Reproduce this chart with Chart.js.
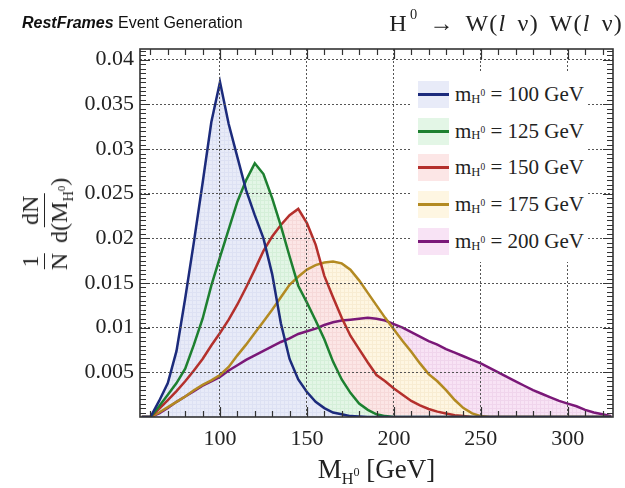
<!DOCTYPE html>
<html>
<head>
<meta charset="utf-8">
<script src="https://cdn.jsdelivr.net/npm/chart.js@4"></script>
<style>
  html, body { margin: 0; padding: 0; background: #fff; }
  #wrap { position: relative; width: 625px; height: 488px; overflow: hidden; }
  #chart { position: absolute; left: 0; top: 0; }
  .serif { font-family: "Liberation Serif", "DejaVu Serif", serif; color: #222; }
  sub, sup { line-height: 0; vertical-align: baseline; position: relative; }
  sub { top: 0.38em; }
  sup { top: -0.55em; }
  #titleL { position: absolute; left: 22px; top: 15px; font-family: "Liberation Sans", Arial, sans-serif;
            font-size: 16px; line-height: 1; color: #111; white-space: nowrap; }
  #titleL b { font-style: italic; }
  #titleR { position: absolute; right: 2px; top: 11px; font-size: 24px; line-height: 1; white-space: nowrap;
            letter-spacing: 1.2px; word-spacing: 4px; }
  #titleR sup { font-size: 0.6em; top: -0.8em; margin-left: 2px; }
  #xtitle { position: absolute; left: 140px; width: 473px; top: 456px; text-align: center; font-size: 27px; line-height: 1; }
  #xtitle sub { font-size: 0.6em; }
  #xtitle sub sup { font-size: 0.75em; top: -0.7em; }
  #ytitle { position: absolute; left: 46px; top: 224px; transform: translate(-50%, -50%) rotate(-90deg);
            display: flex; align-items: center; white-space: nowrap; font-size: 24px; }
  .frac { display: inline-flex; flex-direction: column; align-items: center; margin: 0 3px; }
  .frac .num { border-bottom: 1.6px solid #222; padding: 0 2px 1px; line-height: 1.05; }
  .frac .den { line-height: 1.2; padding: 0 2px; }
  #ytitle sub { font-size: 0.6em; }
  #ytitle sub sup { font-size: 0.75em; top: -0.7em; }
  #legend { position: absolute; left: 412px; top: 73px; width: 175px; height: 189px; background: #fff; }
  .row { position: absolute; left: 6px; height: 27px; display: flex; align-items: center; font-size: 21px; white-space: nowrap; }
  .sw { position: relative; width: 31px; height: 27px; margin-right: 6px; }
  .sw i { position: absolute; left: 0; right: 0; top: 12px; height: 3px; }
  .row sub { font-size: 0.6em; }
  .row sub sup { font-size: 0.75em; top: -0.7em; }
</style>
</head>
<body>
<div id="wrap">
  <canvas id="chart" width="625" height="488"></canvas>
  <div id="titleL"><b>RestFrames</b> Event Generation</div>
  <div id="titleR" class="serif">H<sup>0</sup> &rarr; W(<i>l</i> &nu;) W(<i>l</i> &nu;)</div>
  <div id="xtitle" class="serif">M<sub>H<sup>0</sup></sub> [GeV]</div>
  <div id="ytitle" class="serif"><span class="frac"><span class="num">1</span><span class="den">N</span></span><span class="frac"><span class="num">dN</span><span class="den">d(M<sub>H<sup>0</sup></sub>)</span></span></div>
  <div id="legend" class="serif"></div>
</div>
<script>
// bin centres (GeV)
const massPoints = [55, 60, 65, 70, 75, 80, 85, 90, 95, 100, 105, 110, 115, 120, 125, 130, 135, 140, 145, 150,
  155, 160, 165, 170, 175, 180, 185, 190, 195, 200, 205, 210, 215, 220, 225, 230, 235, 240, 245, 250,
  255, 260, 265, 270, 275, 280, 285, 290, 295, 300, 305, 310, 315, 320, 325];

const higgsMasses = ['100', '125', '150', '175', '200'];

const m100 = [0, 0, 0.0018, 0.0038, 0.0074, 0.0133, 0.0196, 0.0262, 0.0330, 0.0375, 0.0328, 0.0291, 0.0254, 0.0226, 0.0200, 0.0160, 0.0105, 0.0065, 0.0042, 0.0028,
  0.0017, 0.0010, 0.0005, 0.0003, 0.0001, 0.00005, 0, 0, 0, 0, 0, 0, 0, 0, 0, 0, 0, 0, 0, 0,
  0, 0, 0, 0, 0, 0, 0, 0, 0, 0, 0, 0, 0, 0, 0];
const m125 = [0, 0, 0.0012, 0.0025, 0.0038, 0.0054, 0.0081, 0.0110, 0.0147, 0.0179, 0.0210, 0.0241, 0.0265, 0.0284, 0.0272, 0.0245, 0.0214, 0.0180, 0.0147, 0.0128,
  0.0108, 0.0087, 0.0062, 0.0042, 0.0027, 0.0015, 0.0008, 0.0003, 0.0001, 0, 0, 0, 0, 0, 0, 0, 0, 0, 0, 0,
  0, 0, 0, 0, 0, 0, 0, 0, 0, 0, 0, 0, 0, 0, 0];
const m150 = [0, 0, 0.0009, 0.0019, 0.0029, 0.0040, 0.0052, 0.0065, 0.0080, 0.0094, 0.0109, 0.0126, 0.0145, 0.0165, 0.0186, 0.0202, 0.0215, 0.0226, 0.0233, 0.0217,
  0.0193, 0.0158, 0.0134, 0.0111, 0.0091, 0.0076, 0.0061, 0.0047, 0.0040, 0.0032, 0.0025, 0.0018, 0.0013, 0.0009, 0.0006, 0.0004, 0.0002, 0.0001, 0, 0,
  0, 0, 0, 0, 0, 0, 0, 0, 0, 0, 0, 0, 0, 0, 0];
const m175 = [0, 0, 0.0005, 0.0011, 0.0017, 0.0023, 0.0030, 0.0036, 0.0041, 0.0047, 0.0056, 0.0069, 0.0081, 0.0094, 0.0107, 0.0120, 0.0134, 0.0148, 0.0157, 0.0165,
  0.0170, 0.0173, 0.0174, 0.0172, 0.0165, 0.0153, 0.0139, 0.0125, 0.0111, 0.0098, 0.0085, 0.0073, 0.0060, 0.0048, 0.0040, 0.0030, 0.0019, 0.0010, 0.0004, 0.0001,
  0, 0, 0, 0, 0, 0, 0, 0, 0, 0, 0, 0, 0, 0, 0];
const m200 = [0, 0, 0.0004, 0.0010, 0.0017, 0.0023, 0.0029, 0.0035, 0.0040, 0.0045, 0.0052, 0.0058, 0.0064, 0.0069, 0.0074, 0.0079, 0.0084, 0.0088, 0.0093, 0.0096,
  0.0099, 0.0103, 0.0106, 0.0108, 0.0109, 0.0110, 0.0111, 0.0110, 0.0108, 0.0104, 0.0100, 0.0095, 0.0090, 0.0085, 0.0081, 0.0076, 0.0072, 0.0068, 0.0064, 0.0060,
  0.0055, 0.0050, 0.0045, 0.0040, 0.0035, 0.0030, 0.0026, 0.0022, 0.0018, 0.0015, 0.0012, 0.0008, 0.0005, 0.0003, 0.0001];

const xTicks = [100, 150, 200, 250, 300];
const yTicks = [0.005, 0.01, 0.015, 0.02, 0.025, 0.03, 0.035, 0.04];

const lineColors = ['#1c2b7c', '#1d8030', '#b4302c', '#b38a22', '#7a1878'];
const fillColors = ['#e8ebf8', '#e3f6e6', '#fce6e6', '#fef6e2', '#f8e3f5'];
const hatchColors = ['#dde1f3', '#d5efd9', '#f6d9d9', '#f8ecd2', '#f0d5ec'];
const series = [m100, m125, m150, m175, m200];

// light fill with a faint cross-hatch, like the original histogram fill style
function hatch(bg, fg) {
  const c = document.createElement('canvas');
  c.width = 4; c.height = 4;
  const g = c.getContext('2d');
  g.fillStyle = bg; g.fillRect(0, 0, 4, 4);
  g.fillStyle = fg; g.fillRect(0, 0, 4, 1); g.fillRect(0, 0, 1, 4);
  return g.createPattern(c, 'repeat');
}

const datasets = series.map((vals, i) => ({
  label: 'm_H0 = ' + higgsMasses[i] + ' GeV',
  data: vals.map((v, j) => ({ x: massPoints[j], y: v })),
  borderColor: lineColors[i],
  backgroundColor: hatch(fillColors[i], hatchColors[i]),
  fill: 'origin',
  borderWidth: 2.5,
  pointRadius: 0,
  tension: 0
}));

// frame with inward major + minor ticks on all four sides
const frameTicks = {
  id: 'frameTicks',
  afterDraw(chart) {
    const { ctx, chartArea: a, scales: { x, y } } = chart;
    ctx.save();
    ctx.strokeStyle = '#333';
    ctx.lineWidth = 1.2;
    ctx.beginPath();
    for (let v = 60; v <= 325; v += 10) {
      const px = Math.round(x.getPixelForValue(v)) + 0.5;
      const len = v % 50 === 0 ? 10 : 6;
      ctx.moveTo(px, a.bottom); ctx.lineTo(px, a.bottom - len);
      ctx.moveTo(px, a.top); ctx.lineTo(px, a.top + len);
    }
    for (let k = 1; k <= 82; k++) {
      const py = Math.round(y.getPixelForValue(k * 0.0005)) + 0.5;
      const len = k % 10 === 0 ? 10 : 6;
      ctx.moveTo(a.left, py); ctx.lineTo(a.left + len, py);
      ctx.moveTo(a.right, py); ctx.lineTo(a.right - len, py);
    }
    ctx.stroke();
    ctx.lineWidth = 1.6;
    ctx.strokeRect(a.left, a.top, a.right - a.left, a.bottom - a.top);
    ctx.restore();
  }
};

new Chart(document.getElementById('chart'), {
  type: 'line',
  data: { datasets },
  options: {
    responsive: false,
    animation: false,
    layout: { padding: { left: 0, top: 49, right: 12, bottom: 0 } },
    plugins: {
      legend: { display: false },
      tooltip: { enabled: false },
      filler: { drawTime: 'beforeDatasetsDraw' }
    },
    scales: {
      x: {
        type: 'linear', min: 54, max: 326,
        afterBuildTicks: s => { s.ticks = xTicks.map(v => ({ value: v })); },
        afterFit: s => { s.height = 71; },
        grid: { color: '#555', lineWidth: 1, drawTicks: false, z: 1 },
        border: { display: false, dash: [2, 2] },
        ticks: { padding: 9, color: '#222', font: { family: 'Liberation Serif', size: 22 }, callback: v => String(v) }
      },
      y: {
        type: 'linear', min: 0, max: 0.0412,
        afterBuildTicks: s => { s.ticks = yTicks.map(v => ({ value: v })); },
        afterFit: s => { s.width = 140; },
        grid: { color: '#555', lineWidth: 1, drawTicks: false, z: 1 },
        border: { display: false, dash: [2, 2] },
        ticks: { padding: 6, color: '#222', font: { family: 'Liberation Serif', size: 22 }, callback: v => String(v) }
      }
    }
  },
  plugins: [frameTicks]
});

// legend with sub/superscripts
const legend = document.getElementById('legend');
higgsMasses.forEach((m, i) => {
  const row = document.createElement('div');
  row.className = 'row';
  row.style.top = (8 + i * 36.7) + 'px';
  row.innerHTML = '<span class="sw" style="background:' + fillColors[i] + '"><i style="background:' + lineColors[i] + '"></i></span>' +
    'm<sub>H<sup>0</sup></sub>&nbsp;= ' + m + ' GeV';
  legend.appendChild(row);
});
</script>
</body>
</html>
